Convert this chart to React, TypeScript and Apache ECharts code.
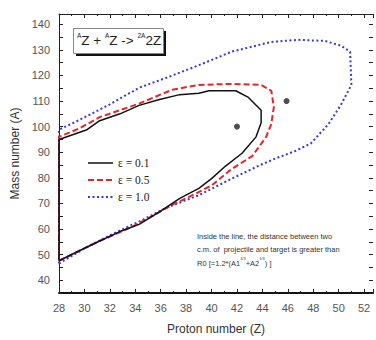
import React, { useEffect, useRef } from "react";
import * as echarts from "echarts";

const xTicks = [28, 52.7];
const yRange = [35, 144];

const seriesNames = ["ε = 0.1", "ε = 0.5", "ε = 1.0"];
const seriesColors = ["#111", "#e5262b", "#3838dc"];

const eps01: number[][] = [
  [28, 47.6], [29.6, 51.5], [31.2, 55.3], [32.8, 59], [34.3, 61.8], [35.9, 66.7],
  [37.5, 72], [39, 75.9], [40, 79.7], [41.1, 84.6], [42.4, 89.6], [43.5, 96],
  [43.9, 101.5], [43.9, 106.4], [42.9, 111.4], [41.9, 114], [39.8, 114], [39, 113],
  [37.5, 112.5], [35.9, 110.6], [34.3, 108.3], [32.8, 105], [31.2, 102.3],
  [30.2, 98.8], [28, 95], [28, 47.6],
];

const eps05: number[][] = [
  [28, 47.6], [29.6, 51.5], [31.2, 55.3], [32.8, 58.8], [33.8, 61], [35.1, 64.4],
  [36.9, 69.4], [38.5, 73.2], [40, 77], [41.6, 83.5], [43.2, 88.5], [44.3, 96],
  [44.7, 101], [44.9, 107.6], [44.7, 114], [43.9, 116.3], [41.6, 116.7], [39, 116.3],
  [36.9, 114.4], [34.3, 109], [31.2, 103.7], [29.6, 99.3], [28, 96], [28, 47.6],
];

const eps10: number[][] = [
  [28, 46.5], [30.2, 53], [32.2, 58], [34.3, 62.9], [36.4, 68.2], [39, 73.2],
  [41.6, 79.7], [43.7, 84.7], [45, 87.5], [46.6, 90.5], [47.8, 93.4], [49.2, 101],
  [50.2, 108.7], [51, 116.3], [50.9, 129.3], [50.2, 131.6], [48.9, 133.5],
  [46.8, 133.9], [44.7, 133.1], [41.6, 129.3], [39, 124], [36.4, 119], [34.3, 115.2],
  [32, 108.7], [29.6, 102.6], [28, 98.8], [28, 46.5],
];

const dots: number[][] = [[42, 100], [45.9, 110]];

export default function App() {
  const ref = useRef<HTMLDivElement>(null);
  useEffect(() => {
    if (!ref.current) return;
    const chart = echarts.init(ref.current, null, { renderer: "svg" });
    const labelFont = "'Liberation Sans Narrow', 'Liberation Sans', Arial, sans-serif";
    const baseX = {
      type: "value" as const,
      min: xTicks[0],
      max: xTicks[1],
      interval: 2,
    };
    const baseY = {
      type: "value" as const,
      min: yRange[0],
      max: yRange[1],
      interval: 5,
    };
    const dashes: any[] = [null, [6, 3], [2, 2.5]];
    const legendGraphics: any[] = [];
    seriesNames.forEach((name, i) => {
      const y = 163 + i * 17;
      legendGraphics.push({
        type: "line",
        shape: { x1: 88, y1: y, x2: 113, y2: y },
        style: { stroke: seriesColors[i], lineWidth: i === 0 ? 1.5 : 2, lineDash: dashes[i] },
        z: 12,
      });
      legendGraphics.push({
        type: "text",
        x: 118,
        y: y,
        z: 12,
        style: {
          text: name,
          fontFamily: "'Liberation Serif', serif",
          fontSize: 11.5,
          fill: "#222",
          verticalAlign: "middle",
        },
      });
    });
    chart.setOption({
      animation: false,
      backgroundColor: "#fff",
      grid: { left: 59, right: 0, top: 14, bottom: 40 },
      xAxis: [
        {
          ...baseX,
          position: "bottom",
          name: "Proton number (Z)",
          nameLocation: "middle",
          nameGap: 30,
          nameTextStyle: { fontFamily: "'Liberation Sans', Arial, sans-serif", fontSize: 12, color: "#333" },
          axisLine: { lineStyle: { color: "#111", width: 2 } },
          axisTick: { inside: true, length: 4, lineStyle: { color: "#222" } },
          minorTick: { show: true, splitNumber: 2, length: 2, lineStyle: { color: "#222" } },
          axisLabel: {
            fontFamily: labelFont,
            fontSize: 11,
            color: "#555",
            margin: 9,
            formatter: (v: number) => (Number.isInteger(v) ? String(v) : ""),
          },
          splitLine: { show: false },
        },
        {
          ...baseX,
          position: "top",
          axisLine: { lineStyle: { color: "#222", width: 1 } },
          axisTick: { inside: true, length: 4, lineStyle: { color: "#222" } },
          minorTick: { show: true, splitNumber: 2, length: 2, lineStyle: { color: "#222" } },
          axisLabel: { show: false },
          splitLine: { show: false },
        },
      ],
      yAxis: [
        {
          ...baseY,
          position: "left",
          name: "Mass number (A)",
          nameLocation: "middle",
          nameGap: 35,
          nameTextStyle: { fontFamily: "'Liberation Sans', Arial, sans-serif", fontSize: 12, color: "#333" },
          axisLine: { show: true, lineStyle: { color: "#222", width: 1 } },
          axisTick: { inside: true, length: 4, lineStyle: { color: "#222" } },
          axisLabel: {
            fontFamily: labelFont,
            fontSize: 11,
            color: "#555",
            margin: 9,
            formatter: (v: number) => (v % 10 === 0 ? String(v) : ""),
          },
          splitLine: { show: false },
        },
        {
          ...baseY,
          position: "right",
          axisLine: { show: false },
          axisTick: { show: true, inside: true, length: 4, lineStyle: { color: "#222" } },
          axisLabel: { show: false },
          splitLine: { show: false },
        },
      ],
      graphic: [
        { type: "rect", left: 76, top: 31, shape: { width: 90, height: 25 }, style: { fill: "#111" }, z: 10 },
        {
          type: "rect",
          left: 73,
          top: 28,
          shape: { width: 90, height: 25 },
          style: { fill: "#fff", stroke: "#888", lineWidth: 1 },
          z: 11,
        },
        {
          type: "text",
          left: 77,
          top: 32,
          z: 12,
          style: {
            text: "{s|A}{b|Z + }{s|A}{b|Z -> }{s|2A}{b|2Z}",
            fill: "#222",
            rich: {
              s: { fontSize: 6.5, fontFamily: labelFont, fill: "#222", verticalAlign: "top", lineHeight: 17, padding: [0, 0, 8, 0] },
              b: { fontSize: 13.5, fontFamily: labelFont, fill: "#222", lineHeight: 17 },
            },
          },
        },
        {
          type: "text",
          left: 197,
          top: 232,
          z: 12,
          style: {
            text:
              "{n|Inside the line, the distance between two}\n{n|c.m. of  projectile and target is greater than}\n{n|R0 [=1.2*(A1}{s|1/3}{n|+A2}{s|1/3}{n|) ]}",
            fill: "#333",
            rich: {
              n: { fontSize: 7.5, fontFamily: labelFont, fill: "#333", lineHeight: 13.5 },
              s: { fontSize: 4, fontFamily: labelFont, fill: "#333", lineHeight: 13.5, verticalAlign: "top" },
            },
          },
        },
        ...legendGraphics,
      ],
      series: [
        {
          name: seriesNames[0],
          type: "line",
          data: eps01,
          symbol: "none",
          z: 4,
          lineStyle: { color: seriesColors[0], width: 1.5 },
        },
        {
          name: seriesNames[1],
          type: "line",
          data: eps05,
          symbol: "none",
          z: 3,
          lineStyle: { color: seriesColors[1], width: 2, type: [6, 3] },
        },
        {
          name: seriesNames[2],
          type: "line",
          data: eps10,
          symbol: "none",
          z: 2,
          lineStyle: { color: seriesColors[2], width: 2, type: [2, 2.5] },
        },
        {
          name: "points",
          type: "scatter",
          data: dots,
          symbolSize: 6,
          itemStyle: { color: "#222" },
          z: 5,
        },
      ],
    });
    return () => chart.dispose();
  }, []);
  return (
    <div
      ref={ref}
      style={{ position: "fixed", left: 0, top: 0, width: 376, height: 340 }}
    />
  );
}
